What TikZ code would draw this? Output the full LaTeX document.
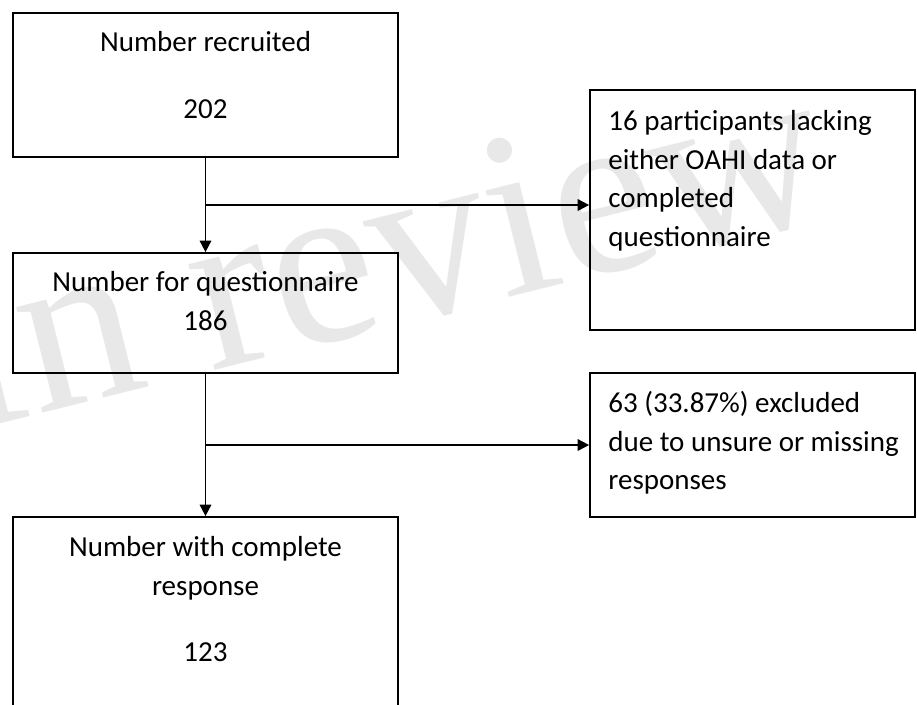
\documentclass[tikz,border=0pt]{standalone}
\usepackage{fontspec}
\setmainfont{Carlito}
\newfontfamily\wmfont{Liberation Serif}
\usetikzlibrary{arrows.meta, positioning, calc}

\tikzset{
  box/.style={draw, line width=1pt, inner sep=0pt},
  txt/.style={font=\fontsize{16.5}{22}\selectfont, inner sep=0pt},
  arr/.style={line width=1pt, -{Triangle[width=6.5pt,length=6.5pt]}}
}

\begin{document}
\begin{tikzpicture}[x=0.02cm, y=-0.02cm]
        \useasboundingbox (0,0) rectangle (917,704);
        \clip (0,0) rectangle (917,704);

        % watermark
        \node[anchor=base west, rotate=14, transform shape, text=black!9, font=\wmfont\fontsize{135}{135}\selectfont, inner sep=0pt] (wm) at (-39,434) {In review};

        % left column
        \node[box, minimum width=7.7cm, minimum height=2.88cm] (rec) at (205.5,85) {};
        \node[box, minimum width=7.7cm, minimum height=2.4cm] (quest) at (205.5,313) {};
        \node[box, minimum width=7.7cm, minimum height=4.1cm] (compl) at (205.5,619.5) {};

        \node[txt, anchor=north, align=center] (recT) at (205.5,31) {Number recruited\\[16pt]202};
        \node[txt, anchor=north, align=center] (questT) at (205.5,271) {Number for questionnaire\\186};
        \node[txt, anchor=north, align=center] (complT) at (205.5,536) {Number with complete\\response\\[16pt]123};

        % right column
        \node[box, minimum width=6.5cm, minimum height=4.8cm] (lack) at (752.5,210) {};
        \node[box, minimum width=6.5cm, minimum height=2.88cm] (excl) at (752.5,445) {};

        \node[txt, anchor=north west, align=left] (lackT) at (608,110) {16 participants lacking\\either OAHI data or\\completed\\questionnaire};
        \node[txt, anchor=north west, align=left] (exclT) at (608,391) {63 (33.87\%) excluded\\due to unsure or missing\\responses};

        % connectors
        \coordinate (b1) at ($(rec.south)!0.5!(quest.north)$);
        \coordinate (b2) at ($(quest.south)!0.5!(compl.north)$);
        \draw[arr] (rec) -- (quest);
        \draw[arr] (quest) -- (compl);
        \draw[arr] (b1) -- (b1 -| lack.west);
        \draw[arr] (b2) -- (b2 -| excl.west);
\end{tikzpicture}
\end{document}
